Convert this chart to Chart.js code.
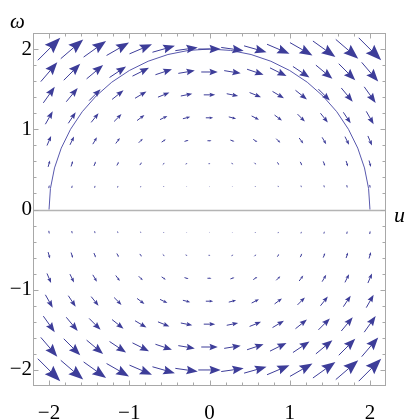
<!DOCTYPE html>
<html>
<head>
<meta charset="utf-8">
<script src="https://cdn.jsdelivr.net/npm/chart.js@4/dist/chart.umd.min.js"></script>
<style>
  html, body { margin: 0; padding: 0; background: #ffffff; }
  #wrap { width: 420px; height: 420px; position: relative; }
</style>
</head>
<body>
<div id="wrap"><canvas id="c" width="420" height="420"></canvas></div>
<script>
// ---- data ----
// sample grid of the vector field
const uGrid = [-2, -1.714, -1.429, -1.143, -0.857, -0.571, -0.286, 0, 0.286, 0.571, 0.857, 1.143, 1.429, 1.714, 2];
const wGrid = [2, 1.714, 1.429, 1.143, 0.857, 0.571, 0.286, -0.286, -0.571, -0.857, -1.143, -1.429, -1.714, -2];
// horizontal (u) component of the arrows, one value per row
const duRow = [4, 2.94, 2.04, 1.31, 0.73, 0.33, 0.08, 0.08, 0.33, 0.73, 1.31, 2.04, 2.94, 4];
// vertical (omega) component of the arrows, one row per wGrid value
const dwRows = [
  [4, 3.43, 2.86, 2.29, 1.71, 1.14, 0.57, 0, -0.57, -1.14, -1.71, -2.29, -2.86, -3.43, -4],
  [3.43, 2.94, 2.45, 1.96, 1.47, 0.98, 0.49, 0, -0.49, -0.98, -1.47, -1.96, -2.45, -2.94, -3.43],
  [2.86, 2.45, 2.04, 1.63, 1.22, 0.82, 0.41, 0, -0.41, -0.82, -1.22, -1.63, -2.04, -2.45, -2.86],
  [2.29, 1.96, 1.63, 1.31, 0.98, 0.65, 0.33, 0, -0.33, -0.65, -0.98, -1.31, -1.63, -1.96, -2.29],
  [1.71, 1.47, 1.22, 0.98, 0.73, 0.49, 0.24, 0, -0.24, -0.49, -0.73, -0.98, -1.22, -1.47, -1.71],
  [1.14, 0.98, 0.82, 0.65, 0.49, 0.33, 0.16, 0, -0.16, -0.33, -0.49, -0.65, -0.82, -0.98, -1.14],
  [0.57, 0.49, 0.41, 0.33, 0.24, 0.16, 0.08, 0, -0.08, -0.16, -0.24, -0.33, -0.41, -0.49, -0.57],
  [-0.57, -0.49, -0.41, -0.33, -0.24, -0.16, -0.08, 0, 0.08, 0.16, 0.24, 0.33, 0.41, 0.49, 0.57],
  [-1.14, -0.98, -0.82, -0.65, -0.49, -0.33, -0.16, 0, 0.16, 0.33, 0.49, 0.65, 0.82, 0.98, 1.14],
  [-1.71, -1.47, -1.22, -0.98, -0.73, -0.49, -0.24, 0, 0.24, 0.49, 0.73, 0.98, 1.22, 1.47, 1.71],
  [-2.29, -1.96, -1.63, -1.31, -0.98, -0.65, -0.33, 0, 0.33, 0.65, 0.98, 1.31, 1.63, 1.96, 2.29],
  [-2.86, -2.45, -2.04, -1.63, -1.22, -0.82, -0.41, 0, 0.41, 0.82, 1.22, 1.63, 2.04, 2.45, 2.86],
  [-3.43, -2.94, -2.45, -1.96, -1.47, -0.98, -0.49, 0, 0.49, 0.98, 1.47, 1.96, 2.45, 2.94, 3.43],
  [-4, -3.43, -2.86, -2.29, -1.71, -1.14, -0.57, 0, 0.57, 1.14, 1.71, 2.29, 2.86, 3.43, 4]
];
// the drawn trajectory (upper semicircle)
const curveU = [-2, -1.983, -1.932, -1.848, -1.732, -1.587, -1.414, -1.218, -1, -0.765, -0.518, -0.261, 0,
                0.261, 0.518, 0.765, 1, 1.218, 1.414, 1.587, 1.732, 1.848, 1.932, 1.983, 2];
const curveW = [0, 0.261, 0.518, 0.765, 1, 1.218, 1.414, 1.587, 1.732, 1.848, 1.932, 1.983, 2,
                1.983, 1.932, 1.848, 1.732, 1.587, 1.414, 1.218, 1, 0.765, 0.518, 0.261, 0];
// axis ticks
const tickValues = [-2.2, -2, -1.8, -1.6, -1.4, -1.2, -1, -0.8, -0.6, -0.4, -0.2, 0,
                    0.2, 0.4, 0.6, 0.8, 1, 1.2, 1.4, 1.6, 1.8, 2, 2.2];
const majorTicks = [-2, -1, 0, 1, 2];
const axisMin = -2.2, axisMax = 2.2;
const xTitle = 'u';
const yTitle = 'ω';

// ---- styles ----
const ARROW_COLOR = '#3d3d99';
const CURVE_COLOR = '#5858ad';
const FRAME_COLOR = '#a8a8a8';
const ARROW_SCALE = 0.07; // data units of arrow length per unit of field magnitude
const SERIF = "'Liberation Serif', 'DejaVu Serif', serif";

const isMajor = v => majorTicks.some(m => Math.abs(m - v) < 1e-6);
const fmt = v => (v < 0 ? '\u2212' : '') + Math.abs(v);

const curveData = curveU.map((u, i) => ({ x: u, y: curveW[i] }));
const fieldData = [];
wGrid.forEach((w, r) => uGrid.forEach((u, c) => fieldData.push({ x: u, y: w, a: duRow[r], b: dwRows[r][c] })));

function drawArrow(ctx, x0, y0, x1, y1) {
  const dx = x1 - x0, dy = y1 - y0;
  const L = Math.hypot(dx, dy);
  if (L < 0.4) return;
  const ux = dx / L, uy = dy / L, nx = -uy, ny = ux;
  const h = 0.5 * L, hw = 0.19 * L;
  const bx = x1 - ux * h, by = y1 - uy * h;
  ctx.beginPath();
  ctx.moveTo(x0, y0);
  ctx.lineTo(bx + ux * h * 0.2, by + uy * h * 0.2);
  ctx.stroke();
  ctx.beginPath();
  ctx.moveTo(x1, y1);
  ctx.lineTo(bx + nx * hw, by + ny * hw);
  ctx.lineTo(bx + ux * h * 0.15, by + uy * h * 0.15);
  ctx.lineTo(bx - nx * hw, by - ny * hw);
  ctx.closePath();
  ctx.fill();
}

const framePlugin = {
  id: 'frameAndField',
  beforeDatasetsDraw(chart) {
    const { ctx, chartArea: a, scales: { y } } = chart;
    const y0 = Math.round(y.getPixelForValue(0)) + 0.5;
    ctx.save();
    ctx.strokeStyle = '#b4b4b4';
    ctx.lineWidth = 1.5;
    ctx.beginPath();
    ctx.moveTo(a.left, y0);
    ctx.lineTo(a.right, y0);
    ctx.stroke();
    ctx.restore();
  },
  afterDatasetsDraw(chart) {
    const { ctx, chartArea: a, scales: { x, y } } = chart;
    // arrows of the field dataset
    const ds = chart.data.datasets[1];
    ctx.save();
    ctx.fillStyle = ARROW_COLOR;
    ctx.strokeStyle = ARROW_COLOR;
    ctx.lineWidth = 1;
    ctx.lineJoin = 'miter';
    ds.data.forEach(p => {
      const x0 = x.getPixelForValue(p.x - ARROW_SCALE * p.a / 2);
      const y0 = y.getPixelForValue(p.y - ARROW_SCALE * p.b / 2);
      const x1 = x.getPixelForValue(p.x + ARROW_SCALE * p.a / 2);
      const y1 = y.getPixelForValue(p.y + ARROW_SCALE * p.b / 2);
      drawArrow(ctx, x0, y0, x1, y1);
    });
    ctx.restore();

    // frame with inward ticks on all four sides
    ctx.save();
    ctx.strokeStyle = FRAME_COLOR;
    ctx.lineWidth = 1;
    const L = Math.round(a.left) + 0.5, R = Math.round(a.right) - 0.5;
    const T = Math.round(a.top) + 0.5, B = Math.round(a.bottom) - 0.5;
    ctx.strokeRect(L, T, R - L, B - T);
    ctx.beginPath();
    x.ticks.forEach(t => {
      const v = t.value;
      if (v <= axisMin + 1e-6 || v >= axisMax - 1e-6) return;
      const px = Math.round(x.getPixelForValue(v)) + 0.5;
      const len = isMajor(v) ? 5 : 3;
      ctx.moveTo(px, B); ctx.lineTo(px, B - len);
      ctx.moveTo(px, T); ctx.lineTo(px, T + len);
    });
    y.ticks.forEach(t => {
      const v = t.value;
      if (v <= axisMin + 1e-6 || v >= axisMax - 1e-6) return;
      const py = Math.round(y.getPixelForValue(v)) + 0.5;
      const len = isMajor(v) ? 5 : 3;
      ctx.moveTo(L, py); ctx.lineTo(L + len, py);
      ctx.moveTo(R, py); ctx.lineTo(R - len, py);
    });
    ctx.stroke();

    // axis names
    ctx.fillStyle = '#000';
    ctx.font = 'italic 22px ' + SERIF;
    ctx.textAlign = 'left';
    ctx.textBaseline = 'alphabetic';
    ctx.fillText(xTitle, a.right + 8, y.getPixelForValue(0) + 12);
    ctx.font = 'italic 21px ' + SERIF;
    ctx.fillText(yTitle, 10, a.top - 5);
    ctx.restore();
  }
};

const tickCfg = {
  autoSkip: false,
  maxRotation: 0,
  color: '#000',
  font: { family: SERIF, size: 21 },
  callback: v => (isMajor(v) ? fmt(Math.round(v)) : '')
};

new Chart(document.getElementById('c'), {
  type: 'scatter',
  data: {
    datasets: [
      {
        type: 'line',
        data: curveData,
        borderColor: CURVE_COLOR,
        borderWidth: 1,
        pointRadius: 0,
        tension: 0,
        fill: false
      },
      {
        type: 'scatter',
        data: fieldData,
        pointRadius: 0,
        pointHoverRadius: 0,
        backgroundColor: ARROW_COLOR
      }
    ]
  },
  options: {
    responsive: false,
    animation: false,
    layout: { padding: { top: 33, right: 34, left: 0, bottom: 0 } },
    plugins: { legend: { display: false }, tooltip: { enabled: false } },
    scales: {
      x: {
        type: 'linear',
        min: axisMin, max: axisMax,
        grid: { display: false, drawTicks: false },
        border: { display: false },
        afterBuildTicks: s => { s.ticks = tickValues.map(v => ({ value: v })); },
        afterFit: s => { s.height = 34; },
        ticks: Object.assign({ padding: 15 }, tickCfg)
      },
      y: {
        type: 'linear',
        min: axisMin, max: axisMax,
        grid: { display: false, drawTicks: false },
        border: { display: false },
        afterBuildTicks: s => { s.ticks = tickValues.map(v => ({ value: v })); },
        afterFit: s => { s.width = 33; },
        ticks: Object.assign({ padding: 1 }, tickCfg)
      }
    }
  },
  plugins: [framePlugin]
});
</script>
</body>
</html>
